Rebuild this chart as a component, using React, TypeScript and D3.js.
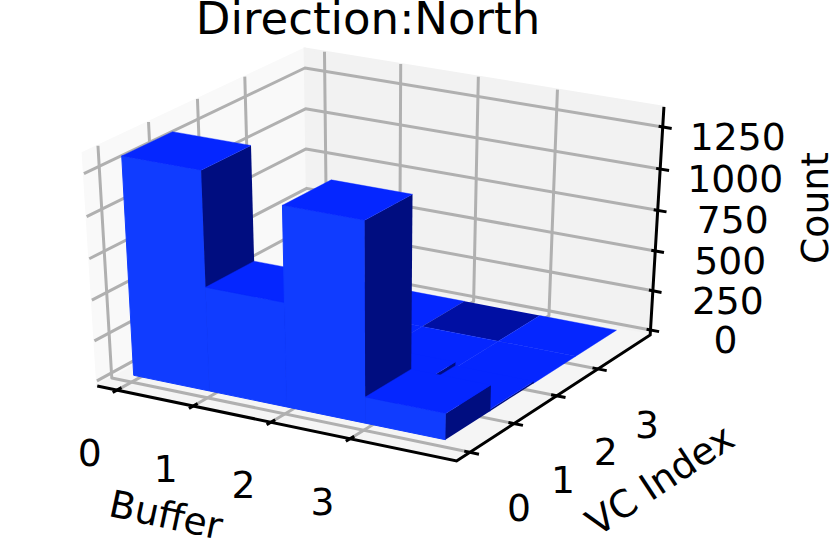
import React from "react";
import * as d3 from "d3";

const title = "Direction:North";
const bufferTicks = [0, 1, 2, 3];
const vcTicks = [0, 1, 2, 3];
const countTicks = [0, 250, 500, 750, 1000, 1250];
const bufferCells = [0, 1, 2, 3];
const vcCells = [0, 1, 2, 3];
// counts per VC row, one value per buffer
const countsVc0 = [1322, 637, 1205, 161];
const countsVc1 = [0, 0, 36, 12];
const countsVc2 = [0, 0, 0, 0];
const countsVc3 = [0, 0, 0, 0];
const rows = [countsVc0, countsVc1, countsVc2, countsVc3];
// the zero bar whose underside shows on top in the source picture: [buffer, vc]
const undersideCells = [[2, 3]];

const W = 832;
const H = 558;
const xLim: [number, number] = [-0.264, 4.317];
const yLim: [number, number] = [-0.297, 4.311];
const zLim: [number, number] = [-32, 1368];
const barX0 = -0.007;
const barDX = 0.997;
const barY0 = 0.06;
const barDY = 1.0125;

const cx = d3.scaleLinear().domain(xLim).range([-0.5, 0.5]);
const cy = d3.scaleLinear().domain(yLim).range([-0.5, 0.5]);
const cz = d3.scaleLinear().domain(zLim).range([-0.5, 0.5]);
const px = d3.scaleLinear().domain([0, 1]).range([378, 378 + 4148]);
const py = d3.scaleLinear().domain([0, 1]).range([247.7, 247.7 - 2660]);

const el = (30 * Math.PI) / 180;
const az = (-60 * Math.PI) / 180;
const dist = 10;
const n = [Math.cos(el) * Math.cos(az), Math.cos(el) * Math.sin(az), Math.sin(el)];
const uLen = Math.hypot(n[1], n[0]);
const u = [-n[1] / uLen, n[0] / uLen, 0];
const v = [
  n[1] * u[2] - n[2] * u[1],
  n[2] * u[0] - n[0] * u[2],
  n[0] * u[1] - n[1] * u[0],
];
const dot = (a: number[], b: number[]) => a[0] * b[0] + a[1] * b[1] + a[2] * b[2];

function P(x: number, y: number, z: number): [number, number] {
  const p = [cx(x), cy(y), cz(z)];
  const w = dist - dot(n, p);
  return [px(dot(u, p) / w), py(dot(v, p) / w)];
}

const line = d3.line();
const poly = (pts: [number, number][]) => line(pts) + "Z";

const [x0, x1] = xLim;
const [y0, y1] = yLim;
const [z0, z1] = zLim;

const TOP = "#0526FF";
const FRONT = "#103CFF";
const SIDE = "#000D80";
const UNDER = "#000FA3";
const GRID = "#b0b0b0";
const FONT = "DejaVu Sans";

type Face = { d: string; fill: string; seal: number };

function barFaces(): Face[] {
  const faces: Face[] = [];
  for (const j of [...vcCells].reverse()) {
    for (const i of bufferCells) {
      const h = rows[j][i];
      const a = barX0 + i * barDX;
      const b = a + barDX;
      const c = barY0 + j * barDY;
      const d = c + barDY;
      const under = undersideCells.some(([ci, cj]) => ci === i && cj === j);
      if (h > 0) {
        faces.push({ d: poly([P(a, c, 0), P(b, c, 0), P(b, c, h), P(a, c, h)]), fill: FRONT, seal: 1 });
        faces.push({ d: poly([P(b, c, 0), P(b, d, 0), P(b, d, h), P(b, c, h)]), fill: SIDE, seal: 0 });
      }
      faces.push({
        d: poly([P(a, c, h), P(b, c, h), P(b, d, h), P(a, d, h)]),
        fill: under ? UNDER : TOP,
        seal: under ? 0 : 0.4,
      });
    }
  }
  return faces;
}

export default function App() {
  const panes = [
    { d: poly([P(x0, y0, z0), P(x0, y1, z0), P(x0, y1, z1), P(x0, y0, z1)]), fill: "#F9F9F9" },
    { d: poly([P(x0, y1, z0), P(x1, y1, z0), P(x1, y1, z1), P(x0, y1, z1)]), fill: "#F2F2F2" },
    { d: poly([P(x0, y0, z0), P(x1, y0, z0), P(x1, y1, z0), P(x0, y1, z0)]), fill: "#F5F5F5" },
  ];
  const gridPaths: string[] = [
    ...bufferTicks.map((t) => line([P(t, y0, z0), P(t, y1, z0), P(t, y1, z1)])!),
    ...vcTicks.map((t) => line([P(x1, t, z0), P(x0, t, z0), P(x0, t, z1)])!),
    ...countTicks.map((t) => line([P(x0, y0, t), P(x0, y1, t), P(x1, y1, t)])!),
  ];
  const axisPath = line([P(x0, y0, z0), P(x1, y0, z0), P(x1, y1, z0), P(x1, y1, z1)])!;
  const tickPaths: string[] = [
    ...bufferTicks.map((t) => line([P(t, y0 + 0.09, z0), P(t, y0 - 0.09, z0)])!),
    ...vcTicks.map((t) => line([P(x1 - 0.07, t, z0), P(x1 + 0.11, t, z0)])!),
    ...countTicks.map((t) => line([P(x1 - 0.05, y1, t), P(x1 + 0.11, y1, t)])!),
  ];
  const labels = [
    ...bufferTicks.map((t) => {
      const [a, b] = P(t, y0, z0);
      return { s: String(t), x: a - 27.5, y: b + 63 };
    }),
    ...vcTicks.map((t) => {
      const [a, b] = P(x1, t, z0);
      return { s: String(t), x: a + 49, y: b + 56 };
    }),
    ...countTicks.map((t) => {
      const [a, b] = P(x1, y1, t);
      return { s: d3.format("d")(t), x: a + 75, y: b + 10 };
    }),
  ];
  return (
    <svg
      width={W}
      height={H}
      viewBox={`0 0 ${W} ${H}`}
      style={{ position: "absolute", left: 0, top: 0, background: "#fff" }}
      fontFamily={FONT}
    >
      {panes.map((f, i) => (
        <path key={i} d={f.d} fill={f.fill} stroke={f.fill} strokeWidth={2} />
      ))}
      {gridPaths.map((d, i) => (
        <path key={i} d={d} fill="none" stroke={GRID} strokeWidth={3} strokeLinejoin="round" />
      ))}
      <path d={axisPath} fill="none" stroke="#000" strokeWidth={3} />
      {tickPaths.map((d, i) => (
        <path key={i} d={d} fill="none" stroke="#000" strokeWidth={3} />
      ))}
      {barFaces().map((f, i) => (
        <path key={i} d={f.d} fill={f.fill} stroke={f.seal ? f.fill : "none"} strokeWidth={f.seal} />
      ))}
      {labels.map((l, i) => (
        <text key={i} x={l.x} y={l.y} textAnchor="middle" dominantBaseline="central" fontSize={37.7}>
          {l.s}
        </text>
      ))}
      <text x={368} y={33.5} textAnchor="middle" fontSize={45}>
        {title}
      </text>
      <text x={0} y={0} transform="translate(166,515) rotate(12)" textAnchor="middle" dominantBaseline="central" fontSize={37.7}>
        Buffer
      </text>
      <text x={0} y={0} transform="translate(660,480) rotate(-33.5)" textAnchor="middle" dominantBaseline="central" fontSize={37.7}>
        VC Index
      </text>
      <text x={0} y={0} transform="translate(815,208) rotate(-90)" textAnchor="middle" dominantBaseline="central" fontSize={37.7}>
        Count
      </text>
    </svg>
  );
}
